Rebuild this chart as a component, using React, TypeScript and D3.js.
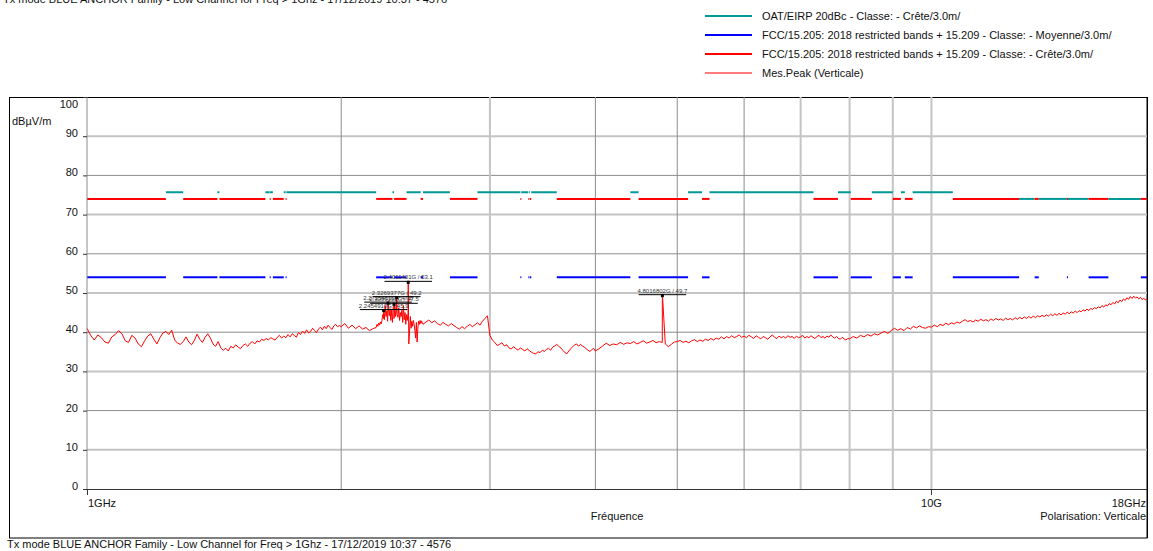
import React from "react";
import * as d3 from "d3";

// Texts
const runTitle =
  "Tx mode BLUE ANCHOR Family - Low Channel for Freq > 1Ghz - 17/12/2019 10:37 - 4576";
const legendLabels = [
  "OAT/EIRP 20dBc - Classe: - Crête/3.0m/",
  "FCC/15.205: 2018 restricted bands + 15.209 - Classe: - Moyenne/3.0m/",
  "FCC/15.205: 2018 restricted bands + 15.209 - Classe: - Crête/3.0m/",
  "Mes.Peak (Verticale)",
];
const legendColors = ["#009999", "#0000ff", "#ff0000", "#ff7a7a"];

// Axes
const yTicks = [0, 10, 20, 30, 40, 50, 60, 70, 80, 90, 100];
const xGridGHz = [2, 3, 4, 5, 6, 7, 8, 9, 10];
const xGridLight = [3, 7, 8, 9, 10];

// Limits (dBuV/m)
const peakLimit = 74;
const avgLimit = 54;
const restrictedBands: [number, number][] = [
  [1.0, 1.24], [1.3, 1.427], [1.435, 1.6265], [1.6455, 1.6465], [1.66, 1.71],
  [1.7188, 1.7222], [2.2, 2.3], [2.31, 2.39], [2.4835, 2.5], [2.69, 2.9],
  [3.26, 3.267], [3.332, 3.339], [3.3458, 3.358], [3.6, 4.4], [4.5, 5.15],
  [5.35, 5.46], [7.25, 7.75], [8.025, 8.5], [9.0, 9.2], [9.3, 9.5],
  [10.6, 12.7], [13.25, 13.4], [14.47, 14.5], [15.35, 16.2], [17.7, 18],
];
// [from GHz, to GHz, level]
const oatSegments: [number, number, number][] = [
  [1.24, 1.3, 75.7], [1.427, 1.435, 75.7], [1.6265, 1.6455, 75.7], [1.6465, 1.66, 75.7],
  [1.71, 1.7188, 75.7], [1.7222, 2.2, 75.7], [2.3, 2.31, 75.7], [2.39, 2.4835, 75.7],
  [2.5, 2.69, 75.7], [2.9, 3.26, 75.7], [3.267, 3.332, 75.7], [3.339, 3.3458, 75.7],
  [3.358, 3.6, 75.7], [4.4, 4.5, 75.7], [5.15, 5.35, 75.7], [5.46, 7.25, 75.7],
  [7.75, 8.025, 75.7], [8.5, 9.0, 75.7], [9.2, 9.3, 75.7], [9.5, 10.6, 75.7],
  [12.7, 13.25, 74], [13.4, 14.47, 74], [14.5, 15.35, 74], [16.2, 17.7, 74],
];

const peak1to2 = [
  41.0, 39.2, 38.0, 39.3, 38.6, 37.5, 37.2, 38.8, 39.4, 40.4,
  39.6, 37.8, 37.4, 39.2, 38.5, 37.0, 36.3, 37.8, 39.0, 39.6,
  38.2, 37.0, 38.6, 39.8, 40.2, 39.4, 40.5, 38.0, 37.2, 36.9,
  37.6, 38.8, 37.5, 36.8, 37.9, 39.5, 38.2, 37.4, 38.7, 39.6,
  38.5, 37.0, 36.4, 37.6, 36.0, 35.4, 35.9, 35.2, 36.4, 36.0,
  36.8, 36.2, 35.8, 36.6, 37.0, 36.4, 37.2, 37.6, 37.0, 37.8,
  37.5, 38.2, 37.9, 38.4, 38.0, 38.6, 38.3, 38.0, 38.7, 39.2,
  38.5, 39.0, 38.6, 39.4, 38.8, 39.6, 39.2, 38.7, 39.9, 39.4,
  40.3, 39.7, 40.6, 39.8, 40.2, 41.0, 40.4, 39.9, 40.8, 41.3,
  40.6, 41.5, 40.9, 41.8, 41.2, 40.7, 41.6, 42.0, 41.4, 41.7,
];
const peak2to2p2 = [41.4, 42.2, 41.0, 41.8, 40.9, 41.6, 40.8, 41.2, 40.4, 40.9];
const peakBurst = [
  41.2, 42.0, 41.5, 42.3, 41.8, 42.6, 42.1, 43.0, 44.5, 43.5,
  43.2, 46.8, 44.0, 45.5, 42.8, 46.0, 44.2, 46.0, 43.0, 45.8,
  42.5, 46.5, 43.5, 47.0, 44.0, 45.5, 44.5, 43.8, 46.2, 43.0,
  45.0, 44.0, 45.6, 42.5, 46.8, 43.2, 45.0, 42.0, 44.5, 43.0,
  45.0, 37.0, 40.5, 44.0, 41.0, 42.8, 41.5, 43.0, 42.0, 40.5,
  38.5, 42.5, 37.5, 41.0, 42.8, 42.0, 43.0, 42.2, 42.9, 42.4,
];
const peak2p5to3 = [
  42.0, 42.6, 43.1, 42.4, 42.9, 42.2, 41.8, 42.5, 42.0, 41.6,
  42.2, 41.7, 41.2, 40.8, 41.4, 40.9, 41.5, 42.0, 41.4, 41.9,
  42.4, 41.8, 42.8, 43.5, 44.2,
];
const peak3to4 = [
  39.2, 38.0, 37.4, 36.6, 36.9, 37.3, 36.5, 36.8, 36.0, 35.7,
  36.3, 35.8, 35.4, 36.0, 35.6, 35.2, 35.8, 35.3, 34.9, 34.6,
  34.5, 35.0, 34.8, 35.4, 35.1, 35.6, 35.9, 35.4, 36.2, 36.5,
  36.9, 36.4, 36.0, 35.4, 34.8, 34.5, 35.2, 35.8, 36.3, 36.8,
  37.0, 36.4, 36.9, 36.5, 36.2, 35.8, 35.4, 35.1, 35.5, 35.9,
];
const peak4to8 = [
  35.2, 35.8, 36.5, 37.2, 36.6, 37.0, 36.8, 37.4, 36.9, 37.3,
  37.1, 37.6, 37.0, 37.4, 37.8, 37.2, 37.5, 37.9, 37.3, 37.6,
  37.4, 37.0, 36.3, 36.9, 37.5, 37.6, 37.9, 37.4, 37.7, 37.3,
  37.8, 38.1, 37.6, 38.0, 37.7, 38.2, 37.9, 38.4, 38.0, 38.5,
  38.2, 38.8, 38.3, 38.9, 38.5, 39.1, 38.6, 38.9, 39.3, 38.7,
  39.0, 38.6, 39.2, 38.8, 38.4, 39.1, 38.7, 38.3, 38.9, 38.6,
  38.2, 38.8, 39.3, 38.7, 38.4, 39.0, 38.6, 38.9, 38.5, 39.1,
  38.7, 38.9, 38.4, 39.0, 38.6, 38.8, 39.2, 38.5, 38.9, 38.6,
  39.1, 38.7, 38.4, 38.9, 39.2, 38.6, 38.9, 38.5, 39.0, 38.7,
  39.3, 38.8, 38.5, 38.9, 38.4, 38.2, 38.7, 38.3, 38.0, 38.4,
];
const peak8to18 = [
  38.3, 38.9, 38.5, 39.2, 38.8, 39.4, 39.0, 39.6, 39.3, 39.8,
  40.2, 39.7, 40.4, 41.0, 40.5, 40.9, 40.4, 41.2, 40.8, 41.5,
  41.1, 41.6, 41.2, 41.0, 41.4, 41.3, 41.8, 41.4, 42.0, 41.7,
  42.3, 41.9, 42.4, 42.1, 42.6, 42.3, 42.8, 43.2, 42.7, 43.0,
  42.6, 43.1, 42.8, 43.3, 42.9, 43.2, 42.8, 43.4, 43.0, 43.5,
  43.1, 43.4, 43.0, 43.6, 43.2, 43.5, 43.1, 43.7, 43.3, 43.8,
  43.4, 43.9, 43.5, 44.0, 43.6, 44.1, 43.7, 44.2, 43.9, 44.3,
  44.0, 44.4, 44.1, 44.6, 44.2, 44.7, 44.3, 44.8, 44.4, 44.9,
  44.6, 45.1, 44.7, 45.2, 44.9, 45.4, 45.0, 45.5, 45.2, 45.7,
  45.4, 45.9, 45.5, 46.1, 45.8, 46.3, 46.0, 46.5, 46.2, 46.8,
  46.4, 47.0, 46.7, 47.3, 47.0, 47.6, 47.2, 47.9, 47.5, 48.2,
  47.8, 48.5, 48.1, 48.8, 48.4, 49.1, 48.6, 49.2, 48.7, 49.0,
  48.5, 48.9, 48.3, 48.7, 48.2, 48.5,
];
const sweeps: [number, number, number[]][] = [
  [1.0, 0.01, peak1to2],
  [2.0, 0.02, peak2to2p2],
  [2.2, 0.005, peakBurst],
  [2.5, 0.02, peak2p5to3],
  [3.0, 0.02, peak3to4],
  [4.0, 0.04, peak4to8],
  [8.0, 0.08, peak8to18],
];

// Markers [GHz, dBuV/m]
const markers: [number, number][] = [
  [2.2454910, 45.9],
  [2.2725451, 47.8],
  [2.3096192, 47.5],
  [2.3269377, 49.2],
  [2.4011401, 53.1],
  [4.8016802, 49.7],
];

const W = 1153;
const H = 551;
const margin = { left: 87, right: 6, top: 97, bottom: 62 };
const font = '"Liberation Sans", Arial, sans-serif';

const App: React.FC = () => {
  const x = d3.scaleLog().domain([1, 18]).range([margin.left, W - margin.right]);
  const y = d3.scaleLinear().domain([0, 100]).range([H - margin.bottom, margin.top]);

  const tracePts: [number, number][] = [];
  sweeps.forEach(([start, step, vals]) =>
    vals.forEach((v, i) => tracePts.push([start + i * step, v]))
  );
  markers.forEach((m) => tracePts.push(m));
  tracePts.sort((a, b) => a[0] - b[0]);

  const line = d3
    .line<[number, number]>()
    .x((d) => x(d[0]))
    .y((d) => y(d[1]));

  const x0 = margin.left;
  const x1 = W - margin.right;
  const y0 = H - margin.bottom;
  const y1 = margin.top;

  return (
    <svg
      width={W}
      height={H}
      style={{ position: "absolute", left: 0, top: 0, fontFamily: font }}
    >
      <rect width={W} height={H} fill="#fff" />
      <text x={3} y={3} fontSize={11} fill="#111">
        {runTitle}
      </text>

      {/* Legend */}
      {legendLabels.map((l, i) => (
        <g key={l} transform={`translate(705, ${16 + i * 19})`}>
          <line x1={0} x2={47} y1={0} y2={0} stroke={legendColors[i]} strokeWidth={2} />
          <text x={57} y={4} fontSize={11} fill="#111">
            {l}
          </text>
        </g>
      ))}

      {/* Outer frame */}
      <rect x={9.5} y={97.5} width={x1 - 9.5} height={538 - 97.5} fill="none" stroke="#000" />

      {/* Grid */}
      {yTicks.slice(1, -1).map((t) => (
        <line
          key={"h" + t}
          x1={x0}
          x2={x1}
          y1={y(t)}
          y2={y(t)}
          stroke={t % 20 === 10 ? "#c4c4c4" : "#8c8c8c"}
          strokeWidth={t % 20 === 10 ? 2 : 1}
        />
      ))}
      {xGridGHz.map((g) => (
        <line
          key={"v" + g}
          x1={x(g)}
          x2={x(g)}
          y1={y1}
          y2={y0}
          stroke={xGridLight.includes(g) ? "#c4c4c4" : "#8c8c8c"}
          strokeWidth={xGridLight.includes(g) ? 2 : 1}
        />
      ))}

      {/* Limit lines */}
      {oatSegments.map(([a, b, lv], i) => (
        <line key={"o" + i} x1={x(a)} x2={x(b)} y1={y(lv)} y2={y(lv)} stroke="#009999" strokeWidth={2} />
      ))}
      {restrictedBands.map(([a, b], i) => (
        <g key={"r" + i}>
          <line x1={x(a)} x2={Math.max(x(b), x(a) + 1)} y1={y(peakLimit)} y2={y(peakLimit)} stroke="#ff0000" strokeWidth={2} />
          <line x1={x(a)} x2={Math.max(x(b), x(a) + 1)} y1={y(avgLimit)} y2={y(avgLimit)} stroke="#0000ff" strokeWidth={2} />
        </g>
      ))}

      {/* Trace */}
      <path d={line(tracePts) ?? ""} fill="none" stroke="#ff0000" strokeWidth={1} />

      {/* Markers */}
      {markers.map(([f, v]) => {
        const label = `${f.toFixed(7)}G / ${v.toFixed(1)}`;
        const w = label.length * 2.8;
        return (
          <g key={label}>
            <text x={x(f)} y={y(v) - 1.5} fontSize={6} textAnchor="middle" fill="#333">
              {label}
            </text>
            <line x1={x(f) - w / 2} x2={x(f) + w / 2} y1={y(v) + 0.5} y2={y(v) + 0.5} stroke="#000" />
            <rect x={x(f) - 1.5} y={y(v)} width={3} height={3} fill="#000" />
          </g>
        );
      })}

      {/* Plot border */}
      <line x1={x0} x2={x0} y1={y1} y2={y0} stroke="#8c8c8c" />
      <line x1={x0} x2={x1} y1={y0 + 0.5} y2={y0 + 0.5} stroke="#333" />
      <line x1={x1 + 0.5} x2={x1 + 0.5} y1={y1} y2={538} stroke="#000" />

      {/* Y axis */}
      {yTicks.map((t) => (
        <g key={"yt" + t}>
          <line x1={x0 - 4} x2={x0} y1={y(t) + 0.5} y2={y(t) + 0.5} stroke="#333" />
          <text x={78} y={t === 100 ? y(t) + 11 : y(t) + 1} fontSize={11} textAnchor="end" fill="#111">
            {t}
          </text>
        </g>
      ))}
      <text x={12} y={125} fontSize={11} fill="#111">
        dBµV/m
      </text>

      {/* X axis */}
      <line x1={x0 + 0.5} x2={x0 + 0.5} y1={y0} y2={y0 + 6} stroke="#333" />
      <line x1={x(10)} x2={x(10)} y1={y0} y2={y0 + 6} stroke="#333" />
      <text x={x0 + 1} y={507} fontSize={11} fill="#111">
        1GHz
      </text>
      <text x={x(10)} y={507} fontSize={11} textAnchor="middle" fill="#111">
        10G
      </text>
      <text x={x1 - 1} y={507} fontSize={11} textAnchor="end" fill="#111">
        18GHz
      </text>
      <text x={617} y={520} fontSize={11} textAnchor="middle" fill="#111">
        Fréquence
      </text>
      <text x={x1 - 1} y={520} fontSize={11} textAnchor="end" fill="#111">
        Polarisation: Verticale
      </text>

      <text x={7} y={548} fontSize={11} fill="#111">
        {runTitle}
      </text>
    </svg>
  );
};

export default App;
